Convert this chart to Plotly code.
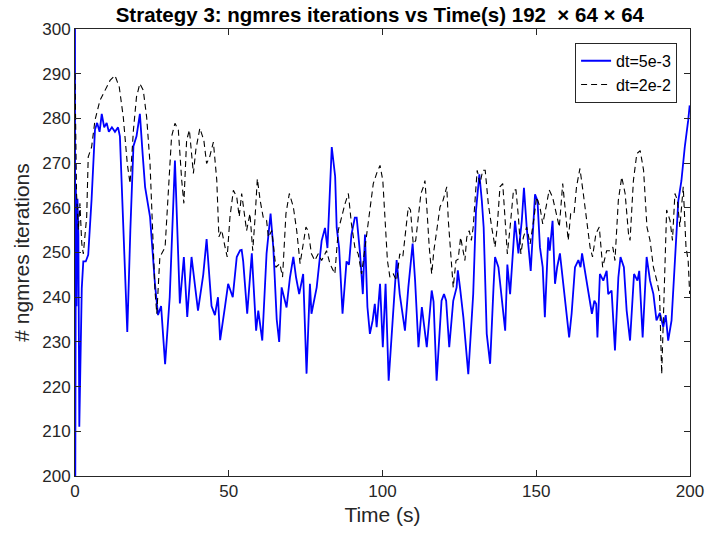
import plotly.graph_objects as go

# dt=5e-3 series (blue, solid): time (s), iterations
t_blue = [0.0, 0.1, 0.3, 0.5, 0.8, 1.1, 1.4, 2.2, 2.7, 3.5, 4.3, 5.4, 6.5, 7.2, 8.0, 8.7, 9.5, 10.3,
          11.0, 12.0, 13.0, 14.0, 14.6, 15.2, 16.0, 17.0, 18.0, 19.0, 20.0, 21.1, 22.0, 22.8, 24.4,
          26.0, 27.0, 28.0, 29.3, 30.8, 32.5, 34.1, 35.4, 36.5, 37.9, 40.0, 41.7, 42.8, 44.4, 45.5,
          46.5, 47.2, 48.8, 49.8, 51.3, 52.6, 53.7, 54.2, 54.7, 56.0, 57.5, 58.9, 59.6, 60.2, 60.9,
          62.3, 63.6, 64.5, 65.6, 66.4, 67.2, 68.8, 69.9, 71.0, 71.9, 72.9, 74.2, 75.3, 76.4, 76.9,
          78.6, 80.2, 81.3, 82.1, 83.5, 84.6, 85.1, 85.9, 87.0, 88.3, 89.1, 89.9, 91.0, 91.6, 92.7,
          93.6, 94.3, 95.1, 95.9, 96.8, 97.5, 98.1, 99.2, 100.1, 101.0, 102.0, 103.5, 104.6, 105.6,
          106.7, 107.3, 108.4, 109.8, 110.6, 111.7, 112.8, 113.5, 114.4, 116.0, 116.6, 117.6, 119.2,
          120.0, 120.7, 121.7, 123.0, 124.1, 124.5, 125.2, 126.3, 127.9, 129.5, 130.4, 131.5, 132.3,
          132.9, 133.9, 135.0, 136.1, 136.6, 137.7, 138.8, 139.9, 140.6, 141.5, 143.1, 144.2, 145.3,
          146.0, 146.9, 148.2, 149.6, 150.4, 151.2, 152.1, 152.8, 153.9, 154.4, 155.3, 156.1, 156.8,
          157.7, 158.7, 159.8, 160.7, 161.5, 162.6, 163.7, 164.4, 164.9, 166.0, 167.0, 168.1, 168.9,
          169.5, 169.9, 170.7, 171.8, 172.9, 173.4, 174.5, 175.6, 176.7, 177.4, 178.5, 179.4, 180.5,
          181.8, 182.9, 183.5, 184.6, 185.9, 187.0, 188.1, 189.1, 190.2, 191.3, 192.1, 192.9, 194.0,
          195.1, 196.2, 197.2, 198.3, 199.4, 199.9]
y_blue = [300, 200, 264, 238, 262, 254, 211, 242, 248, 248, 249.5, 262, 277.5, 279, 277, 281, 278, 279,
          277, 278, 277, 278, 276, 264, 250, 232.2, 255, 273.8, 276, 281, 272, 264.6, 258,
          243, 236, 238, 225, 240, 270.6, 238.6, 249, 235.6, 249, 237, 245, 253, 238, 236,
          240, 230.4, 238, 243, 240, 249, 250.5, 250.6, 248, 236.3, 249.8, 232.5, 237, 233.5, 230.3,
          249.8, 258.7, 251, 235, 230, 242.2, 237.7, 244.4, 249, 244.4, 240.7, 245.2, 222.9, 243, 236.3,
          242.2, 252.6, 255.5, 251, 273.6, 267, 255.6, 251, 236.3, 248, 247.3, 254, 257.8, 257.8, 249.8,
          240.7, 254, 237.8, 231.8, 234.8, 238.5, 233.3, 243, 228.8, 243, 221.3, 237.8, 248.3, 240.7,
          234.8, 232.5, 242.2, 252, 243.7, 228.8, 237.8, 233.3, 228.8, 241.5, 239, 221.3, 239.2,
          240.7, 239.2, 228.8, 239.2, 242.2, 246, 242.2, 235.5, 222.8, 240.7, 259.3, 267.5, 261.6,
          255.6, 231.8, 225.1, 242.2, 249, 246.7, 240, 232.5, 247.3, 240.7, 257.1, 249.8, 257.1,
          264.5, 255.6, 245.9, 263, 261.6, 251.2, 246.7, 235.5, 253.4, 250.4, 257.1, 243, 246.7,
          249.8, 243.7, 236.3, 231, 236.3, 246.7, 248.3, 246.7, 249.8, 245.2, 241.5, 236.3, 239.2,
          238.5, 231, 245.2, 243.7, 245.9, 240.7, 241.5, 228.1, 244.4, 249, 246.7, 237, 230.3,
          245.2, 243.7, 245.9, 231, 249, 243.7, 240.7, 234.8, 236.5, 233.3, 236, 230.3, 234.8,
          248.3, 261.6, 266, 273.6, 279.5, 282.9]

# dt=2e-2 series (black, dashed)
t_black = [0.0, 0.5, 1.1, 1.6, 2.2, 2.7, 3.8, 4.3, 5.4, 6.5, 8.1, 9.8, 11.4, 13.0, 14.4, 15.7, 17.0,
           17.9, 19.0, 20.0, 21.1, 22.2, 23.3, 24.4, 25.3, 26.0, 26.6, 27.6, 29.3, 30.3, 31.4, 32.5,
           33.6, 34.7, 35.4, 36.3, 37.2, 38.5, 39.3, 40.6, 41.9, 42.8, 43.8, 45.0, 46.1, 46.8, 47.7,
           48.8, 49.5, 50.4, 51.5, 52.6, 53.4, 54.2, 55.3, 55.8, 56.9, 57.8, 58.5, 59.3, 60.2, 61.2,
           62.3, 62.9, 64.0, 65.3, 66.6, 67.5, 68.6, 69.7, 71.0, 72.1, 73.2, 74.2, 75.1, 75.8, 76.9,
           78.0, 79.1, 80.2, 81.8, 82.9, 84.5, 85.6, 86.7, 87.8, 88.9, 89.9, 91.0, 92.1, 93.2, 94.3,
           95.9, 97.0, 98.1, 99.2, 100.1, 100.8, 101.6, 102.4, 103.5, 104.6, 105.6, 106.6, 107.6,
           108.4, 109.1, 110.0, 110.8, 111.7, 112.5, 113.3, 113.8, 114.4, 115.2, 116.0, 116.7,
           117.8, 118.7, 119.7, 120.9, 121.4, 122.2, 123.0, 123.9, 124.6, 125.4, 126.0, 126.8,
           127.4, 128.2, 128.9, 129.5, 130.4, 130.8, 131.7, 132.6, 133.4, 134.4, 135.5, 136.6,
           137.3, 138.2, 139.1, 139.9, 140.6, 141.5, 142.6, 143.4, 144.2, 145.0, 145.8, 146.9,
           148.0, 149.3, 150.1, 151.2, 152.1, 153.2, 154.2, 155.3, 156.4, 157.5, 158.6, 159.4,
           160.4, 161.2, 162.3, 163.1, 164.2, 165.3, 166.4, 167.5, 168.3, 169.4, 170.5, 171.6,
           172.9, 174.0, 174.9, 175.6, 176.7, 177.8, 178.9, 180.0, 180.5, 181.6, 182.7, 183.8,
           184.9, 186.0, 187.0, 188.1, 189.2, 190.1, 190.8, 191.5, 192.4, 193.5, 194.3, 195.1,
           195.9, 196.7, 197.8, 198.7, 199.4, 199.9]
y_black = [290, 263.2, 255, 261, 252, 249.7, 258, 271.4, 273.6, 279.6, 284, 286.3, 288.5, 289.6, 287,
           280.3, 269.9, 265.4, 277.4, 284.8, 287.8, 286.3, 280.3, 269.9, 255, 241.5, 236.3, 249,
           251.2, 262.4, 275.9, 278.9, 277.4, 266.2, 261, 275.1, 277.4, 267.7, 273, 277.8, 275.1,
           269.9, 271.4, 274.7, 266.2, 253.5, 255, 251.2, 249, 258, 263.9, 262.4, 258, 263.2,
           257.9, 254.9, 258.7, 250.4, 257.2, 266.5, 261.7, 257.9, 257.2, 253.4, 254.9, 246.7,
           247.5, 244.5, 258.7, 263.2, 260.2, 254.9, 247.5, 252, 255.7, 254.9, 249.7, 248.2,
           249.7, 248.2, 250.4, 247.5, 245.2, 254.9, 257.9, 260.9, 263.2, 256.4, 251.2, 249.7,
           245.2, 251.2, 260.2, 265.4, 267.7, 269.5, 266.1, 257.2, 248.2, 244.5, 245.2, 243.7,
           249.7, 249, 255.7, 260.2, 259.5, 251.9, 252.7, 258.7, 263.2, 264.7, 266.1, 260.2,
           251.2, 245.2, 250.4, 255.7, 260.2, 261.7, 264.7, 257.2, 249.7, 242.2, 248.2, 248.5,
           253.4, 251.2, 248.2, 253.4, 254.9, 252.7, 255.7, 264.7, 268.4, 265.4, 268.4, 268.4,
           260.9, 255.7, 251.2, 255.7, 264.7, 265.4, 257.2, 249.7, 255.7, 264, 264, 257.9, 249.7,
           253.4, 255.7, 251.9, 257.9, 262.4, 260.2, 256.4, 260.2, 264, 262.4, 258.7, 255.7,
           265.4, 259.5, 252.7, 258.7, 258.7, 264.7, 268.8, 263.2, 257.2, 251.2, 249, 254.2,
           255.7, 246.7, 250.4, 250.4, 251.2, 248.2, 261.7, 266.9, 263.2, 254.2, 252.7, 266.1,
           272.1, 272.8, 268.4, 255.7, 252.7, 246.7, 243.7, 240.7, 222.8, 239.2, 259.5, 257.2,
           252.7, 263.2, 261.7, 255.7, 264.7, 251.2, 248.2, 240.7]

x_ticks = [0, 50, 100, 150, 200]
y_ticks = [200, 210, 220, 230, 240, 250, 260, 270, 280, 290, 300]

font_family = "Liberation Sans, Arial, sans-serif"
axis_color = "#262626"

fig = go.Figure()
fig.add_trace(go.Scatter(x=t_blue, y=y_blue, mode="lines", name="dt=5e-3",
                         line=dict(color="#0000ff", width=1.8)))
fig.add_trace(go.Scatter(x=t_black, y=y_black, mode="lines", name="dt=2e-2",
                         line=dict(color="#000000", width=1.1, dash="6px,4px")))

axis_common = dict(showgrid=False, zeroline=False, showline=True, mirror="ticks",
                   linecolor=axis_color, linewidth=1, ticks="inside", ticklen=6,
                   tickcolor=axis_color, automargin=False,
                   tickfont=dict(family=font_family, size=17, color=axis_color))

fig.update_layout(
    width=706, height=537,
    margin=dict(l=75, r=16, t=29, b=61),
    paper_bgcolor="white", plot_bgcolor="white",
    title=dict(text="<b>Strategy 3: ngmres iterations vs Time(s) 192  \u00d7 64 \u00d7 64</b>",
               x=0.538, xanchor="center", y=0.972, yanchor="middle",
               font=dict(family=font_family, size=20.5, color="#000000")),
    xaxis=dict(range=[0, 200], tickvals=x_ticks, title=dict(text="Time (s)", standoff=6,
               font=dict(family=font_family, size=21, color=axis_color)), **axis_common),
    yaxis=dict(range=[200, 300], tickvals=y_ticks, title=dict(text="# ngmres iterations", standoff=6,
               font=dict(family=font_family, size=21, color=axis_color)), **axis_common),
    legend=dict(x=0.979, xanchor="right", y=0.969, yanchor="top",
                bgcolor="white", bordercolor=axis_color, borderwidth=1,
                font=dict(family=font_family, size=16, color="#000000"),
                tracegroupgap=0),
    showlegend=True,
)

fig.write_html("out.html")
